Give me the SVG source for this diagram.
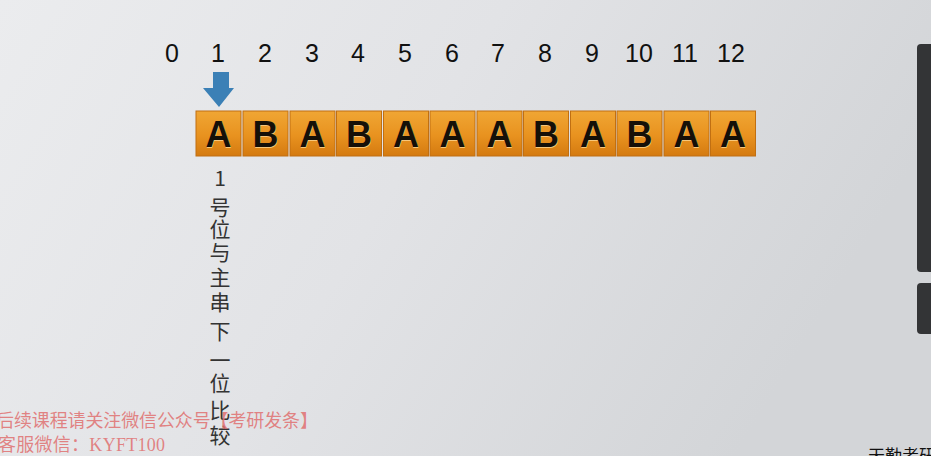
<svg xmlns="http://www.w3.org/2000/svg" width="931" height="456" viewBox="0 0 931 456">
  <defs>
    <linearGradient id="bg" x1="0" y1="0" x2="1" y2="0.3">
      <stop offset="0" stop-color="#ebecee"/>
      <stop offset="0.5" stop-color="#e2e3e6"/>
      <stop offset="1" stop-color="#d3d5d8"/>
    </linearGradient>
    <linearGradient id="tile" x1="0" y1="0" x2="0" y2="1">
      <stop offset="0" stop-color="#f0a634"/>
      <stop offset="0.55" stop-color="#e8921f"/>
      <stop offset="1" stop-color="#d47a10"/>
    </linearGradient>
    <style>
      .num { font-family: "Liberation Sans", Arial, sans-serif; font-size: 25px; fill: #111; text-anchor: middle; }
      .tile rect { fill: url(#tile); stroke: #c06f12; stroke-width: 1; }
      .tile text { font-family: "Liberation Sans", Arial, sans-serif; font-weight: bold; font-size: 36px; fill: #151008; text-anchor: middle; }
      .tile .sh { fill: #f7c77a; }
      .vt { font-family: "Noto Sans CJK SC", "Liberation Sans", sans-serif; font-size: 21px; fill: #333; text-anchor: middle; }
      .wm { font-family: "Liberation Serif", "Noto Sans CJK SC", serif; font-size: 18px; fill: #e07070; fill-opacity: 0.85; }
      .bar { fill: #333436; }
    </style>
  </defs>
  <rect x="0" y="0" width="931" height="456" fill="url(#bg)"/>

  <g id="indices">
    <text class="num" x="172" y="62">0</text>
    <text class="num" x="218" y="62">1</text>
    <text class="num" x="265" y="62">2</text>
    <text class="num" x="312" y="62">3</text>
    <text class="num" x="358" y="62">4</text>
    <text class="num" x="405" y="62">5</text>
    <text class="num" x="452" y="62">6</text>
    <text class="num" x="498" y="62">7</text>
    <text class="num" x="545" y="62">8</text>
    <text class="num" x="592" y="62">9</text>
    <text class="num" x="639" y="62">10</text>
    <text class="num" x="685" y="62">11</text>
    <text class="num" x="731" y="62">12</text>
  </g>

  <g id="pointer">
    <polygon points="213,72 229,72 229,88 234,88 219,107 203,88 213,88" fill="#3b80b6"/>
  </g>

  <g id="tiles">
    <g id="t1" class="tile"><rect x="196" y="111" width="45" height="45"/><text class="sh" x="219" y="148">A</text><text x="218.5" y="147">A</text></g>
    <g id="t2" class="tile"><rect x="243" y="111" width="45" height="45"/><text class="sh" x="266" y="148">B</text><text x="265.5" y="147">B</text></g>
    <g id="t3" class="tile"><rect x="290" y="111" width="45" height="45"/><text class="sh" x="313" y="148">A</text><text x="312.5" y="147">A</text></g>
    <g id="t4" class="tile"><rect x="336.5" y="111" width="45" height="45"/><text class="sh" x="359.5" y="148">B</text><text x="359" y="147">B</text></g>
    <g id="t5" class="tile"><rect x="383.5" y="111" width="45" height="45"/><text class="sh" x="406.5" y="148">A</text><text x="406" y="147">A</text></g>
    <g id="t6" class="tile"><rect x="430" y="111" width="45" height="45"/><text class="sh" x="453" y="148">A</text><text x="452.5" y="147">A</text></g>
    <g id="t7" class="tile"><rect x="477" y="111" width="45" height="45"/><text class="sh" x="500" y="148">A</text><text x="499.5" y="147">A</text></g>
    <g id="t8" class="tile"><rect x="523.5" y="111" width="45" height="45"/><text class="sh" x="546.5" y="148">B</text><text x="546" y="147">B</text></g>
    <g id="t9" class="tile"><rect x="570.5" y="111" width="45" height="45"/><text class="sh" x="593.5" y="148">A</text><text x="593" y="147">A</text></g>
    <g id="t10" class="tile"><rect x="617" y="111" width="45" height="45"/><text class="sh" x="640" y="148">B</text><text x="639.5" y="147">B</text></g>
    <g id="t11" class="tile"><rect x="664" y="111" width="45" height="45"/><text class="sh" x="687" y="148">A</text><text x="686.5" y="147">A</text></g>
    <g id="t12" class="tile"><rect x="710.5" y="111" width="45" height="45"/><text class="sh" x="733.5" y="148">A</text><text x="733" y="147">A</text></g>
  </g>

  <g id="caption">
    <text class="vt" x="220" y="186">1</text>
    <text class="vt" x="220" y="215">号</text>
    <text class="vt" x="220" y="237">位</text>
    <text class="vt" x="220" y="260">与</text>
    <text class="vt" x="220" y="285">主</text>
    <text class="vt" x="220" y="310">串</text>
    <text class="vt" x="220" y="339">下</text>
    <text class="vt" x="220" y="368">一</text>
    <text class="vt" x="220" y="391">位</text>
    <text class="vt" x="220" y="418">比</text>
    <text class="vt" x="220" y="443">较</text>
  </g>

  <g id="watermark">
    <text class="wm" x="-4" y="427" textLength="322" lengthAdjust="spacing">后续课程请关注微信公众号【考研发条】</text>
    <text class="wm" x="-2" y="451" textLength="167" lengthAdjust="spacing">客服微信：KYFT100</text>
  </g>

  <g id="sidebar">
    <rect class="bar" x="917" y="44" width="24" height="228" rx="4"/>
    <rect class="bar" x="917" y="283" width="24" height="51" rx="4"/>
  </g>

  <text x="868" y="462" font-family="Noto Sans CJK SC, sans-serif" font-size="17" fill="#111">天勤考研</text>
</svg>
